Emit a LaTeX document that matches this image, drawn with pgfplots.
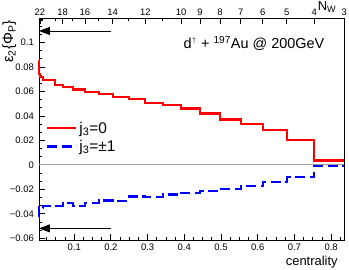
\documentclass[border=0pt]{standalone}
\usepackage{fontspec}
\setmainfont{Liberation Sans}
\usepackage{pgfplots}
\pgfplotsset{compat=1.18}
\usetikzlibrary{arrows.meta}
\begin{document}
\begin{tikzpicture}[x=1bp,y=1bp]
\path[use as bounding box] (-39,-30) rectangle (310,240);
% top N_W axis
\begin{axis}[
  at={(0,0)}, anchor=south west,
  scale only axis, width=305.3bp, height=222bp,
  xmin=0.0041, xmax=0.836, ymin=-0.0614, ymax=0.12,
  axis x line*=top, hide y axis,
  axis line style={line width=0.9bp, -},
  tick align=inside,
  major tick length=6bp, minor tick length=3bp,
  every tick/.style={black, line width=0.8bp},
  xtick={0.0068,0.0687,0.1294,0.2049,0.2938,0.3911,0.4429,0.4974,0.5538,0.6137,0.6792,0.7544,0.836},
  xticklabels={22,18,16,14,12,10,9,8,7,6,5,4,3},
  minor xtick={0.0104,0.0141,0.0477,0.0959,0.1668,0.2485,0.3412},
  xticklabel style={font=\fontsize{9.5}{11}\selectfont, inner sep=2bp},
]
\addplot[draw=none, forget plot] coordinates {(0.1,0) (0.2,0)};
\end{axis}
% main axis
\begin{axis}[
  at={(0,0)}, anchor=south west,
  scale only axis, width=305.3bp, height=222bp,
  xmin=0.0041, xmax=0.836, ymin=-0.0614, ymax=0.12,
  clip=false,
  axis line style={line width=0.9bp},
  tick align=inside, xtick pos=bottom, ytick pos=left,
  major tick length=6bp, minor tick length=3bp,
  every tick/.style={black, line width=0.8bp},
  xtick={0.1,0.2,0.3,0.4,0.5,0.6,0.7,0.8},
  xticklabels={0.1,0.2,0.3,0.4,0.5,0.6,0.7,0.8},
  minor xtick={0.025,0.05,0.075,0.125,0.15,0.175,0.225,0.25,0.275,0.325,0.35,0.375,0.425,0.45,0.475,0.525,0.55,0.575,0.625,0.65,0.675,0.725,0.75,0.775,0.825},
  ytick={-0.06,-0.04,-0.02,0,0.02,0.04,0.06,0.08,0.1},
  yticklabels={−0.06,−0.04,−0.02,0,0.02,0.04,0.06,0.08,0.1},
  minor ytick={-0.0533,-0.0467,-0.0333,-0.0267,-0.0133,-0.0067,0.0067,0.0133,0.0267,0.0333,0.0467,0.0533,0.0667,0.0733,0.0867,0.0933,0.1067,0.1133},
  tick label style={font=\fontsize{9.5}{11}\selectfont},
  xticklabel style={inner sep=2bp, yshift=-1.5bp},
  yticklabel style={inner sep=2bp, xshift=-3bp},
  xlabel={centrality},
  xlabel style={at={(axis description cs:0.979,-0.072)}, anchor=north east, inner sep=0pt, font=\fontsize{13}{15}\selectfont},
  ylabel={ε\textsubscript{2}\{Φ\textsubscript{P}\}},
  ylabel style={at={(axis description cs:-0.097,0.99)}, anchor=east, inner sep=0pt, font=\fontsize{15}{17}\selectfont},
  legend style={at={(axis description cs:0.02,0.462)}, anchor=west, draw=none, fill=none,
    font=\fontsize{15.5}{18}\selectfont, row sep=1.5bp, inner sep=1bp},
  legend cell align=left,
  legend image code/.code={\draw[#1] (0bp,0bp) -- (29bp,0bp);},
]
\addplot[gray!75, line width=1.1bp, forget plot] coordinates {(0.0041,0) (0.836,0)};
\addplot[const plot, red, line width=2.2bp] coordinates {
(0.0042,0.0853) (0.0043,0.0743) (0.0068,0.0721) (0.0141,0.0694) (0.0477,0.0655)
(0.0687,0.0633) (0.0959,0.0616) (0.1294,0.0595) (0.1668,0.0579) (0.2049,0.0556)
(0.2485,0.0537) (0.2938,0.0504) (0.3412,0.0491) (0.3911,0.0460) (0.4429,0.0419)
(0.4974,0.0370) (0.5538,0.0332) (0.6137,0.0282) (0.6792,0.0200) (0.7544,0.0035)
(0.836,0.0035)};
\addlegendentry{j\textsubscript{3}=0}
\addplot[const plot, blue, line width=2.2bp, dash pattern=on 10bp off 4.5bp] coordinates {
(0.0042,-0.0423) (0.0043,-0.0342) (0.0068,-0.0350) (0.0141,-0.0336) (0.0477,-0.0336)
(0.0687,-0.0314) (0.0959,-0.0333) (0.1294,-0.0314) (0.1668,-0.0291) (0.2049,-0.0294)
(0.2485,-0.0258) (0.2938,-0.0263) (0.3412,-0.0242) (0.3911,-0.0227) (0.4429,-0.0215)
(0.4974,-0.0195) (0.5538,-0.0170) (0.6137,-0.0137) (0.6792,-0.0100) (0.7544,-0.0009)
(0.836,-0.0009)};
\addlegendentry{j\textsubscript{3}=±1}
\addplot[black, line width=0.8bp, -{Triangle[length=11bp,width=8bp]}, forget plot] coordinates {(0.2,0.1094) (0.0041,0.1094)};
\addplot[black, line width=0.8bp, -{Triangle[length=11bp,width=8bp]}, forget plot] coordinates {(0.2,-0.0519) (0.0041,-0.0519)};
\node[anchor=base west, inner sep=0pt, font=\fontsize{14.5}{17}\selectfont] at (axis description cs:0.4727,0.8635) {d\textsuperscript{↑} + \textsuperscript{197}Au @ 200GeV};
\node[anchor=base east, inner sep=0pt, font=\fontsize{13}{15}\selectfont] at (axis description cs:0.974,1.036) {N\textsubscript{W}};
\end{axis}
\end{tikzpicture}
\end{document}
